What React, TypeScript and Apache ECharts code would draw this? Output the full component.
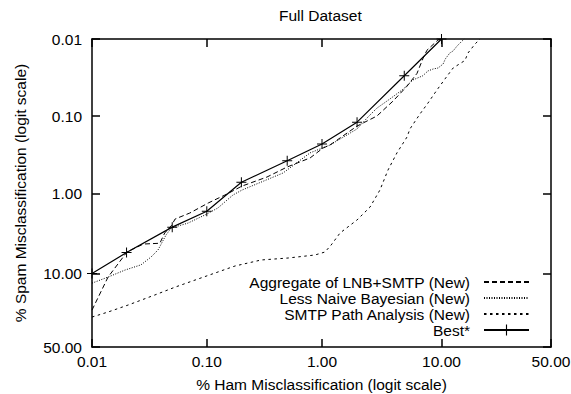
import React, { useEffect, useRef } from "react";
import * as echarts from "echarts";

// Percent values (x: % ham misclassified, y: % spam misclassified)
const aggX = [0.01, 0.0138, 0.0202, 0.028, 0.039, 0.043, 0.049, 0.053, 0.071, 0.103, 0.15, 0.203, 0.334, 0.5, 0.79, 1.02, 1.17, 2.0, 2.95, 4.03, 5.27, 6.36, 7.11, 7.66, 9.38, 9.9];
const aggY = [24.9, 11.0, 5.5, 4.4, 4.3, 3.2, 2.6, 2.13, 1.79, 1.33, 1.02, 0.805, 0.616, 0.457, 0.349, 0.26, 0.238, 0.135, 0.1, 0.064, 0.041, 0.028, 0.018, 0.014, 0.0103, 0.01];

const lnbX = [0.01, 0.0138, 0.0194, 0.0267, 0.0327, 0.0376, 0.0441, 0.049, 0.0686, 0.0965, 0.125, 0.169, 0.203, 0.46, 0.79, 1.17, 2.0, 2.48, 2.95, 3.8, 4.88, 5.9, 7.1, 7.8, 8.6, 9.4, 10.3, 10.7, 11.6, 12.3, 13.2, 14.4, 14.9];
const lnbY = [12.9, 11.0, 9.1, 7.9, 6.35, 5.2, 3.4, 2.77, 2.4, 1.89, 1.54, 1.05, 0.906, 0.547, 0.3, 0.238, 0.147, 0.103, 0.079, 0.06, 0.045, 0.034, 0.03, 0.026, 0.0245, 0.0238, 0.0211, 0.0182, 0.0152, 0.0143, 0.0123, 0.0106, 0.01];

const smtpX = [0.01, 0.0138, 0.0206, 0.0354, 0.053, 0.079, 0.118, 0.176, 0.297, 0.51, 0.87, 1.06, 1.2, 1.43, 2.0, 2.58, 3.13, 3.66, 4.35, 5.27, 5.57, 6.73, 7.8, 9.2, 10.65, 12.3, 15.1, 15.9, 17.9, 19.4];
const smtpY = [29.0, 26.0, 22.2, 17.4, 14.3, 11.9, 9.86, 8.15, 6.9, 6.53, 6.0, 5.52, 4.52, 3.2, 2.19, 1.5, 0.906, 0.5, 0.3, 0.187, 0.147, 0.094, 0.068, 0.046, 0.033, 0.0238, 0.019, 0.0152, 0.0116, 0.01];

const bestX = [0.01, 0.02, 0.05, 0.1, 0.2, 0.5, 1, 2, 5, 10];
const bestY = [10, 5.6, 2.7, 1.7, 0.72, 0.38, 0.23, 0.12, 0.03, 0.01];

const tickValues = [0.01, 0.1, 1, 10, 50];
const tickLabels = ["0.01", "0.10", "1.00", "10.00", "50.00"];

const seriesNames = [
  "Aggregate of LNB+SMTP (New)",
  "Less Naive Bayesian (New)",
  "SMTP Path Analysis (New)",
  "Best*",
];

const logit = (pct: number) => {
  const p = pct / 100;
  return Math.log(p / (1 - p));
};

const FONT = "'Liberation Sans', Arial, Helvetica, sans-serif";
const FS = 15.5;

export default function App() {
  const ref = useRef<HTMLDivElement>(null);

  useEffect(() => {
    if (!ref.current) return;
    const chart = echarts.init(ref.current, undefined, { renderer: "svg" });

    const tickLogits = tickValues.map(logit);
    const fmt = (v: number) => {
      const i = tickLogits.findIndex((t) => Math.abs(t - v) < 1e-6);
      return i >= 0 ? tickLabels[i] : "";
    };
    const axMin = tickLogits[0];
    const axMax = tickLogits[tickLogits.length - 1];
    const pair = (xs: number[], ys: number[]) => xs.map((x, i) => [logit(x), logit(ys[i])]);

    const lineCol = "#000";
    const axisLine = { show: true, onZero: false, lineStyle: { color: lineCol, width: 1.5 } };
    const axisTick = { show: true, inside: true, length: 8, customValues: tickLogits, lineStyle: { color: lineCol, width: 1.5 } };
    const labelStyle = { color: "#000", fontSize: FS, fontFamily: FONT };

    const plus = "path://M4.5,0H5.5V4.5H10V5.5H5.5V10H4.5V5.5H0V4.5H4.5Z";

    const rowTops = [274, 290, 306, 322];

    chart.setOption({
      animation: false,
      backgroundColor: "#fff",
      title: {
        text: "Full Dataset",
        left: 279,
        top: 7,
        padding: 0,
        textStyle: { color: "#000", fontSize: FS, fontWeight: "normal", fontFamily: FONT },
      },
      legend: seriesNames.map((n, i) => ({
        data: [n],
        right: 41,
        top: rowTops[i],
        orient: "horizontal",
        align: "right",
        itemWidth: 45,
        itemHeight: 14,
        padding: 0,
        selectedMode: false,
        itemStyle:
          i < 3
            ? { color: "rgba(0,0,0,0)", borderColor: "rgba(0,0,0,0)", borderWidth: 0 }
            : { color: lineCol },
        textStyle: { ...labelStyle, padding: [0, 9, 0, 0] },
      })),
      grid: { left: 92, right: 20, top: 39, bottom: 47, containLabel: false, outerBoundsMode: "none" },
      xAxis: [
        {
          type: "value",
          min: axMin,
          max: axMax,
          position: "bottom",
          axisLine,
          axisTick,
          axisLabel: { ...labelStyle, customValues: tickLogits, formatter: fmt, margin: 6 },
          splitLine: { show: false },
          name: "% Ham Misclassification (logit scale)",
          nameLocation: "middle",
          nameGap: 29,
          nameTextStyle: labelStyle,
        },
        {
          type: "value",
          min: axMin,
          max: axMax,
          position: "top",
          axisLine,
          axisTick,
          axisLabel: { show: false },
          splitLine: { show: false },
        },
      ],
      yAxis: [
        {
          type: "value",
          min: axMin,
          max: axMax,
          inverse: true,
          position: "left",
          axisLine,
          axisTick,
          axisLabel: { ...labelStyle, customValues: tickLogits, formatter: fmt, margin: 10 },
          splitLine: { show: false },
          name: "% Spam Misclassification (logit scale)",
          nameLocation: "middle",
          nameGap: 64,
          nameTextStyle: labelStyle,
        },
        {
          type: "value",
          min: axMin,
          max: axMax,
          inverse: true,
          position: "right",
          axisLine,
          axisTick,
          axisLabel: { show: false },
          splitLine: { show: false },
        },
      ],
      series: [
        {
          type: "line",
          name: seriesNames[0],
          data: pair(aggX, aggY),
          symbol: "none",
          itemStyle: { color: lineCol },
          lineStyle: { color: lineCol, width: 1, type: [5, 3] },
          z: 3,
        },
        {
          type: "line",
          name: seriesNames[1],
          data: pair(lnbX, lnbY),
          symbol: "none",
          itemStyle: { color: lineCol },
          lineStyle: { color: lineCol, width: 1, type: [1, 1.5] },
          z: 3,
        },
        {
          type: "line",
          name: seriesNames[2],
          data: pair(smtpX, smtpY),
          symbol: "none",
          itemStyle: { color: lineCol },
          lineStyle: { color: lineCol, width: 1, type: [2.5, 3.5] },
          z: 3,
        },
        {
          type: "line",
          name: seriesNames[3],
          data: pair(bestX, bestY),
          symbol: plus,
          symbolSize: 10,
          showSymbol: true,
          itemStyle: { color: lineCol },
          lineStyle: { color: lineCol, width: 1.2, type: "solid" },
          z: 4,
        },
      ],
    });

    return () => chart.dispose();
  }, []);

  return (
    <div
      ref={ref}
      style={{ position: "fixed", left: 0, top: 0, width: 571, height: 394, background: "#fff" }}
    />
  );
}
